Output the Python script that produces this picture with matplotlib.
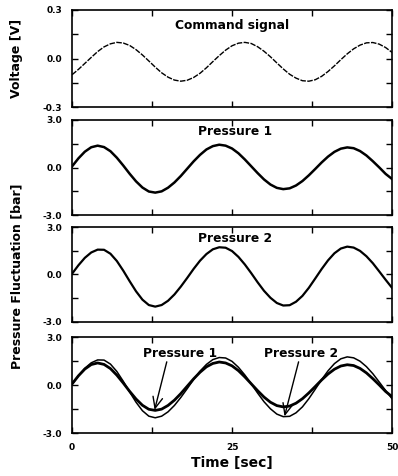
import matplotlib
matplotlib.use("Agg")
import matplotlib.pyplot as plt

plt.rcParams["font.family"] = ["DejaVu Sans"]
plt.rcParams["font.weight"] = "bold"

# time axis, 1 s steps
time = list(range(51))

command = [-0.100, -0.067, -0.030, 0.007, 0.043, 0.072, 0.091, 0.100, 0.096, 0.081,
           0.055, 0.022, -0.015, -0.053, -0.088, -0.115, -0.133, -0.140, -0.134, -0.117,
           -0.091, -0.057, -0.019, 0.018, 0.052, 0.079, 0.095, 0.100, 0.093, 0.073,
           0.045, 0.011, -0.027, -0.064, -0.097, -0.121, -0.137, -0.140, -0.131, -0.110,
           -0.080, -0.045, -0.007, 0.029, 0.060, 0.083, 0.097, 0.099, 0.089, 0.068,
           0.038]

pressure1 = [0.07, 0.58, 1.00, 1.28, 1.38, 1.29, 1.03, 0.62, 0.13, -0.39,
             -0.87, -1.26, -1.51, -1.58, -1.50, -1.27, -0.94, -0.53, -0.07, 0.39,
             0.80, 1.14, 1.35, 1.44, 1.38, 1.20, 0.90, 0.51, 0.08, -0.35,
             -0.75, -1.07, -1.28, -1.36, -1.31, -1.13, -0.85, -0.49, -0.09, 0.32,
             0.69, 0.99, 1.19, 1.27, 1.22, 1.04, 0.76, 0.40, 0.01, -0.40,
             -0.72]

pressure2 = [0.04, 0.58, 1.05, 1.39, 1.57, 1.56, 1.31, 0.85, 0.24, -0.43,
             -1.07, -1.60, -1.94, -2.04, -1.94, -1.67, -1.27, -0.77, -0.22, 0.35,
             0.87, 1.29, 1.59, 1.72, 1.69, 1.48, 1.11, 0.63, 0.08, -0.50,
             -1.04, -1.48, -1.81, -1.97, -1.95, -1.73, -1.36, -0.85, -0.26, 0.34,
             0.89, 1.34, 1.64, 1.76, 1.70, 1.49, 1.15, 0.71, 0.19, -0.34,
             -0.85]

fig = plt.figure(figsize=(3.98, 4.76), dpi=100)
left, width = 0.181, 0.804
boxes = [(0.775, 0.204), (0.548, 0.200), (0.324, 0.199), (0.090, 0.202)]
axes = [fig.add_axes([left, b, width, h]) for b, h in boxes]

def style(ax, lim, labels):
    ax.set_xlim(0, 50)
    ax.set_ylim(-lim, lim)
    ax.set_xticks([0, 12.5, 25, 37.5, 50])
    ax.set_yticks([-lim, -lim / 2, 0, lim / 2, lim])
    ax.set_yticklabels(labels)
    ax.tick_params(direction="in", top=True, right=True, length=4, width=1,
                   labelsize=6.5, pad=7)
    for s in ax.spines.values():
        s.set_linewidth(1.2)

style(axes[0], 0.3, ["-0.3", "", "0.0", "", "0.3"])
for ax in axes[1:]:
    style(ax, 3.0, ["-3.0", "", "0.0", "", "3.0"])
for ax in axes[:3]:
    ax.set_xticklabels([])
axes[3].set_xticklabels(["0", "", "25", "", "50"])

axes[0].plot(time, command, color="black", lw=1.0, ls=(0, (4, 1)))
axes[1].plot(time, pressure1, color="black", lw=1.8)
axes[2].plot(time, pressure2, color="black", lw=1.6)
axes[3].plot(time, pressure2, color="black", lw=1.1)
axes[3].plot(time, pressure1, color="black", lw=2.0)

tsize = 8.8
axes[0].text(25, 0.205, "Command signal", ha="center", va="center", fontsize=tsize, fontweight="bold")
axes[1].text(25.5, 2.3, "Pressure 1", ha="center", va="center", fontsize=tsize, fontweight="bold")
axes[2].text(25.5, 2.3, "Pressure 2", ha="center", va="center", fontsize=tsize, fontweight="bold")

arrow = dict(arrowstyle="->,head_length=0.8,head_width=0.35", color="black", lw=1.0,
             shrinkA=0, shrinkB=0)
axes[3].annotate("", xy=(12.9, -1.55), xytext=(14.8, 1.45), arrowprops=arrow)
axes[3].annotate("", xy=(33.2, -1.95), xytext=(35.4, 1.45), arrowprops=arrow)
axes[3].text(16.9, 2.0, "Pressure 1", ha="center", va="center", fontsize=tsize, fontweight="bold")
axes[3].text(35.8, 2.0, "Pressure 2", ha="center", va="center", fontsize=tsize, fontweight="bold")

axes[3].set_xlabel("Time [sec]", fontsize=10, fontweight="bold", labelpad=3)
fig.text(0.042, 0.877, "Voltage [V]", rotation=90, ha="center", va="center",
         fontsize=9, fontweight="bold")
fig.text(0.042, 0.42, "Pressure Fluctuation [bar]", rotation=90, ha="center", va="center",
         fontsize=9, fontweight="bold")

fig.savefig("out.png", dpi=100)
